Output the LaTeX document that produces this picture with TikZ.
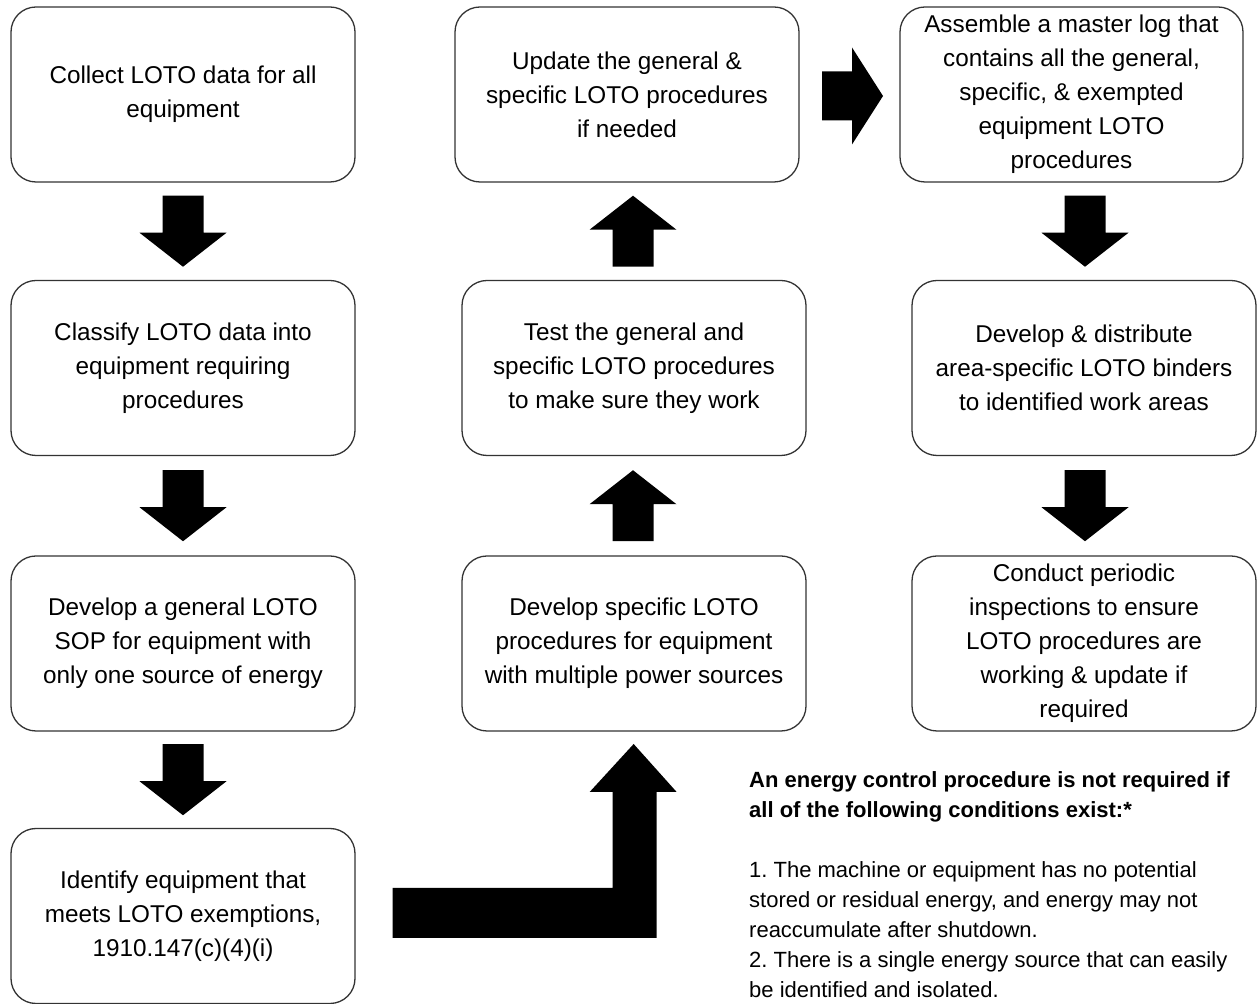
\documentclass[tikz,border=0pt]{standalone}
\usepackage{fontspec}
\setmainfont{Liberation Sans}
\usepackage{tikz}
\usetikzlibrary{calc,positioning}
\tikzset{
    stepbox/.style={
        draw=black!80,
        line width=1.3pt,
        rounded corners=25pt,
        fill=white,
        minimum width=344pt,
        minimum height=175pt,
        align=center,
        font=\fontsize{24.3}{34}\selectfont
    },
    blk/.style={fill=black}
}
% block arrows, drawn round a named coordinate
\newcommand{\downblock}[1]{\fill[blk] (#1) ++(-20.5,35.5) -- ++(41,0) -- ++(0,-37) -- ++(23,0) -- ++(-43.5,-34) -- ++(-43.5,34) -- ++(23,0) -- cycle;}
\newcommand{\upblock}[1]{\fill[blk] (#1) ++(-20.5,-35.5) -- ++(41,0) -- ++(0,37) -- ++(23,0) -- ++(-43.5,34) -- ++(-43.5,-34) -- ++(23,0) -- cycle;}
\begin{document}
\frenchspacing
\begin{tikzpicture}[x=1pt,y=1pt]
  \useasboundingbox (0,0) rectangle (1259,1004);

  % First column
  \node[stepbox] (b1) at (183,909.5) {Collect LOTO data for all\\equipment};
  \node[stepbox] (b2) at (183,636) {Classify LOTO data into\\equipment requiring\\procedures};
  \node[stepbox] (b3) at (183,360.5) {Develop a general LOTO\\SOP for equipment with\\only one source of energy};
  \node[stepbox] (b4) at (183,88) {Identify equipment that\\meets LOTO exemptions,\\1910.147(c)(4)(i)};

  % Second column
  \node[stepbox] (c1) at (634,360.5) {Develop specific LOTO\\procedures for equipment\\with multiple power sources};
  \node[stepbox] (c2) at (634,636) {Test the general and\\specific LOTO procedures\\to make sure they work};
  \node[stepbox] (c3) at (627,909.5) {Update the general \&\\specific LOTO procedures\\if needed};

  % Third column
  \node[stepbox, minimum width=343pt] (d1) at (1071.5,909.5) {Assemble a master log that\\contains all the general,\\specific, \& exempted\\equipment LOTO\\procedures};
  \node[stepbox] (d2) at (1084,636) {Develop \& distribute\\area-specific LOTO binders\\to identified work areas};
  \node[stepbox] (d3) at (1084,360.5) {Conduct periodic\\inspections to ensure\\LOTO procedures are\\working \& update if\\required};

  % Arrows between the boxes
  \coordinate (a12) at ($(b1.south)!0.5!(b2.north)$);
  \coordinate (a23) at ($(b2.south)!0.5!(b3.north)$);
  \coordinate (a34) at ($(b3.south)!0.5!(b4.north)$);
  \coordinate (ac12) at ($(c1.north)!0.5!(c2.south)+(-1,0)$);
  \coordinate (ac23) at ($(c2.north |- c3.south)!0.5!(c2.north)+(-1,0)$);
  \coordinate (ad12) at ($(d2.north |- d1.south)!0.5!(d2.north)+(1,0)$);
  \coordinate (ad23) at ($(d2.south)!0.5!(d3.north)+(1,0)$);
  \downblock{a12}
  \downblock{a23}
  \downblock{a34}
  \upblock{ac12}
  \upblock{ac23}
  \downblock{ad12}
  \downblock{ad23}

  % Arrow from the top of column 2 to column 3
  \coordinate (r) at ($(c3.east)!0.5!(d1.west)+(3,-1.5)$);
  \fill[blk] (r) ++(-30.5,24.5) -- ++(30,0) -- ++(0,24) -- ++(31,-48.5) -- ++(-31,-48.5) -- ++(0,24) -- ++(-30,0) -- cycle;

  % Bent arrow from the exemptions box up to column 2
  \coordinate (bs) at ($(b4.east)+(37,3)$);
  \fill[blk] (bs) ++(0,25) -- ++(220,0) -- ++(0,96) -- ++(-23,0) -- ++(44,48) -- ++(43,-48) -- ++(-20,0) -- ++(0,-146) -- ++(-264,0) -- cycle;

  % Note
  \node[anchor=north west, inner sep=0pt, align=left, font=\fontsize{22}{30}\selectfont] (note) at (749,233) {
    \textbf{An energy control procedure is not required if}\\
    \textbf{all of the following conditions exist:*}\\[30pt]
    1. The machine or equipment has no potential\\
    stored or residual energy, and energy may not\\
    reaccumulate after shutdown.\\
    2. There is a single energy source that can easily\\
    be identified and isolated.
  };
\end{tikzpicture}
\end{document}
